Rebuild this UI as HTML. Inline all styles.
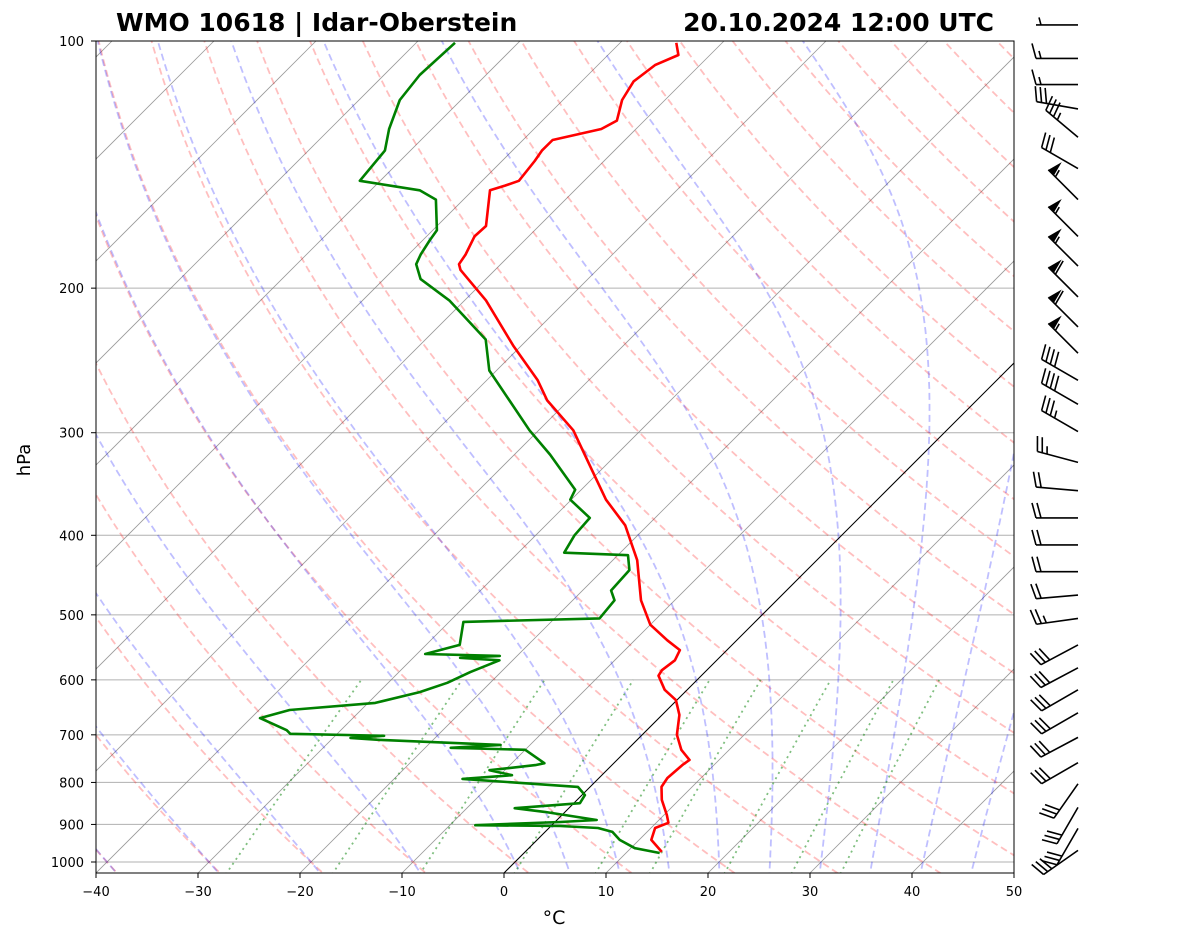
<!DOCTYPE html>
<html><head><meta charset="utf-8"><style>
html,body{margin:0;padding:0;background:#fff;}
svg{display:block;font-family:"DejaVu Sans","Liberation Sans",sans-serif;}
</style></head><body>
<svg id="chart" width="1181" height="941" viewBox="0 0 1181 941" xmlns="http://www.w3.org/2000/svg">
<defs><clipPath id="clip"><rect x="96" y="41" width="918" height="832"/></clipPath></defs>
<rect width="1181" height="941" fill="#fff"/>
<g id="grid" clip-path="url(#clip)"></g>
<g id="profiles" clip-path="url(#clip)"></g>
<rect x="96" y="41" width="918" height="832" fill="none" stroke="#000" stroke-width="1"/>
<g id="axes"></g>
<g id="barbs"></g>
<text x="116" y="31" font-size="25" font-weight="bold">WMO 10618 | Idar-Oberstein</text>
<text x="994" y="31" font-size="25" font-weight="bold" text-anchor="end">20.10.2024 12:00 UTC</text>
<text x="30" y="460" font-size="18" text-anchor="middle" transform="rotate(-90 30 460)">hPa</text>
<text x="554" y="924" font-size="19" text-anchor="middle">°C</text>
</svg>
<script>
const tempP=[972,940,909,896,877,840,810,790,762,751,730,700,662,635,617,593,584,568,552,537,514,480,429,389,362,333,298,274,259,235,207,190,187,182,173,168,152,150,148,140,136,132,128,125,118,112,107,104,100.5];
const tempT=[13.4,11.2,10.4,11.2,10.3,8.3,7.0,6.7,6.9,7.1,5.3,3.4,1.7,-0.1,-2.2,-4.2,-4.4,-4.1,-4.6,-6.8,-10,-13.3,-17.6,-22.2,-26.6,-30.9,-36.6,-42.1,-45,-50.8,-57.9,-63.4,-64.1,-64.4,-65.3,-65.2,-68.3,-67.3,-66.4,-66.8,-67.1,-67.1,-63.4,-62.7,-64.2,-64.9,-64.4,-63.1,-64.5];
const dewP=[975,962,940,919,909,904,902,894,889,869,860,848,829,810,792,784,773,762,758,730,726,720,710,706,702,698,691,668,653,640,621,605,587,568,564,561,558,544,510,505,480,467,441,423,420,400,381,362,352,319,298,274,252,231,207,195,187,182,175,170,156,152,148,136,128,118,110,100.5];
const dewT=[13.3,10.4,8.1,6.6,4.8,0.9,-7.5,0.5,3.9,-2,-5.3,0.6,0.3,-1.2,-13.3,-8.8,-11.5,-7.5,-6.8,-10,-17.5,-12.9,-25.2,-28.3,-25.2,-34.6,-35.3,-39.1,-37,-29.3,-26,-24.2,-23,-21.3,-25.4,-21.7,-29.2,-26.7,-28.6,-15.6,-15.9,-17.2,-17.4,-19,-25.5,-26.2,-26.4,-30.1,-30.6,-36.5,-40.9,-45.8,-50.7,-54.1,-61.5,-66.4,-68.3,-68.8,-69.3,-69.6,-72.7,-75.2,-82,-82.5,-84.2,-86,-86.5,-86.2];
const windP=[95.6,105,113,121,131,143,156,173,188,205,223,240,259,277,299,326,353,381,411,443,473,505,544,580,617,658,705,757,803,858,910,968];
const windDir=[270,270,270,280,310,300,315,315,315,315,315,315,300,300,300,285,275,270,270,270,265,262,242,242,240,240,242,240,215,210,210,235];
const windSpd=[5,15,15,30,35,30,55,55,55,60,60,55,40,40,35,25,20,20,20,20,20,25,30,30,30,30,30,30,30,30,30,30];
const xTicks=[-40,-30,-20,-10,0,10,20,30,40,50];
const yTicks=[100,200,300,400,500,600,700,800,900,1000];

const NS="http://www.w3.org/2000/svg";
function yP(p){return 41+821*Math.log10(p/100);}
function xT(t,p){return 96+(t+40)*10.2+(873-yP(p));}
function mk(tag,attrs,parent){const e=document.createElementNS(NS,tag);for(const k in attrs)e.setAttribute(k,attrs[k]);parent.appendChild(e);return e;}
const grid=document.getElementById('grid'),prof=document.getElementById('profiles'),axes=document.getElementById('axes'),barbs=document.getElementById('barbs');
function pathFrom(pts){return pts.map((q,i)=>(i?'L':'M')+q[0].toFixed(1)+','+q[1].toFixed(1)).join('');}

yTicks.forEach(p=>{const l=mk('line',{x1:96,x2:1014,y1:yP(p),y2:yP(p),stroke:'#b0b0b0','stroke-width':1},grid);
});
for(let t=-130;t<=50;t+=10){const l=mk('line',{x1:xT(t,1031),y1:yP(1031),x2:xT(t,100),y2:yP(100),stroke:'#808080','stroke-width':0.8,'stroke-opacity':0.8},grid);
}
const levels=[];for(let p=1050;p>=99;p-=5)levels.push(p);
for(let t0=-50;t0<=200;t0+=10){const th=t0+273.15;const pts=levels.map(p=>[xT(th*Math.pow(p/1000,0.2857)-273.15,p),yP(p)]);
const e=mk('path',{d:pathFrom(pts),fill:'none',stroke:'#ff0000','stroke-opacity':0.25,'stroke-width':1.8,'stroke-dasharray':'7,4'},grid);
}
function dTdp(p,T){const es=6.112*Math.exp(17.67*(T-273.15)/(T-29.65));const rs=0.622*es/(p-es);
const Rd=287.04,Cp=1005.7,Lv=2.501e6;return (Rd*T+Lv*rs)/(Cp+Lv*Lv*rs*0.622/(Rd*T*T))/p;}
function moist(t0){let T=t0+273.15;
let down=[];let Tt=T;for(let p=1000;p<1050;p+=5){down.push([p,Tt]);const k1=dTdp(p,Tt),k2=dTdp(p+2.5,Tt+2.5*k1),k3=dTdp(p+2.5,Tt+2.5*k2),k4=dTdp(p+5,Tt+5*k3);Tt+=5/6*(k1+2*k2+2*k3+k4);}
down.push([1050,Tt]);down.reverse();
const up=[];Tt=T;for(let p=1000;p>100;p-=5){const h=-5;const k1=dTdp(p,Tt),k2=dTdp(p+h/2,Tt+h/2*k1),k3=dTdp(p+h/2,Tt+h/2*k2),k4=dTdp(p+h,Tt+h*k3);Tt+=h/6*(k1+2*k2+2*k3+k4);up.push([p+h,Tt]);}
return down.concat(up).map(q=>[xT(q[1]-273.15,q[0]),yP(q[0])]);}
const moistT0=[-50,-40,-30,-20,-10,0,5,10,15,20,25,30,35,40,45,50];
moistT0.forEach(t0=>{const e=mk('path',{d:pathFrom(moist(t0)),fill:'none',stroke:'#0000ff','stroke-opacity':0.25,'stroke-width':1.8,'stroke-dasharray':'7,4'},grid);
});
[0.0004,0.001,0.002,0.004,0.007,0.01,0.016,0.024,0.032].forEach(w=>{const pts=[];for(let p=1050;p>=600;p-=10){const e=w*p/(0.622+w);const l=Math.log(e/6.112);const td=243.5*l/(17.67-l);pts.push([xT(td,p),yP(p)]);}
const e=mk('path',{d:pathFrom(pts),fill:'none',stroke:'#008000','stroke-opacity':0.5,'stroke-width':1.8,'stroke-dasharray':'2,4'},grid);
});
const zl=mk('line',{x1:xT(0,1031),y1:yP(1031),x2:xT(0,100),y2:yP(100),stroke:'#000','stroke-width':1},grid);


const tp=mk('path',{d:pathFrom(tempP.map((p,i)=>[xT(tempT[i],p),yP(p)])),fill:'none',stroke:'#ff0000','stroke-width':2.6,'stroke-linejoin':'round'},prof);

const dp=mk('path',{d:pathFrom(dewP.map((p,i)=>[xT(dewT[i],p),yP(p)])),fill:'none',stroke:'#008000','stroke-width':2.6,'stroke-linejoin':'round'},prof);


xTicks.forEach(t=>{const x=96+(t+40)*10.2;mk('line',{x1:x,x2:x,y1:873,y2:878,stroke:'#000'},axes);
const tx=mk('text',{x:x,y:896,'font-size':13,'text-anchor':'middle'},axes);tx.textContent=(t<0?'\u2212'+(-t):t);
});
yTicks.forEach(p=>{const y=yP(p);mk('line',{x1:91,x2:96,y1:y,y2:y,stroke:'#000'},axes);
const tx=mk('text',{x:84,y:y+5,'font-size':13,'text-anchor':'end'},axes);tx.textContent=p;
});

windP.forEach((p,i)=>{const ax=1078,ay=yP(p);const d=windDir[i]*Math.PI/180;const ux=Math.sin(d),uy=-Math.cos(d);const px=-uy,py=ux;
const g=mk('g',{},barbs);
const L=42;const tx=ax+ux*L,ty=ay+uy*L;
mk('line',{x1:ax,y1:ay,x2:tx,y2:ty,stroke:'#000','stroke-width':1.6},g);
let s=windSpd[i];const flags=Math.floor(s/50);s-=flags*50;const full=Math.floor(s/10);s-=full*10;const half=s>=5;
let pos=0;
for(let f=0;f<flags;f++){const bx=tx-ux*pos,by=ty-uy*pos;const cx=bx-ux*8,cy=by-uy*8;
mk('polygon',{points:`${bx},${by} ${cx},${cy} ${bx-ux*4+px*15},${by-uy*4+py*15}`,fill:'#000'},g);pos+=10;}
for(let f=0;f<full;f++){const bx=tx-ux*pos,by=ty-uy*pos;mk('line',{x1:bx,y1:by,x2:bx+px*15+ux*4,y2:by+py*15+uy*4,stroke:'#000','stroke-width':1.6},g);pos+=5;}
if(half){if(pos===0)pos=5;const bx=tx-ux*pos,by=ty-uy*pos;mk('line',{x1:bx,y1:by,x2:bx+px*7.5+ux*2,y2:by+py*7.5+uy*2,stroke:'#000','stroke-width':1.6},g);}
});
</script>
</body></html>
